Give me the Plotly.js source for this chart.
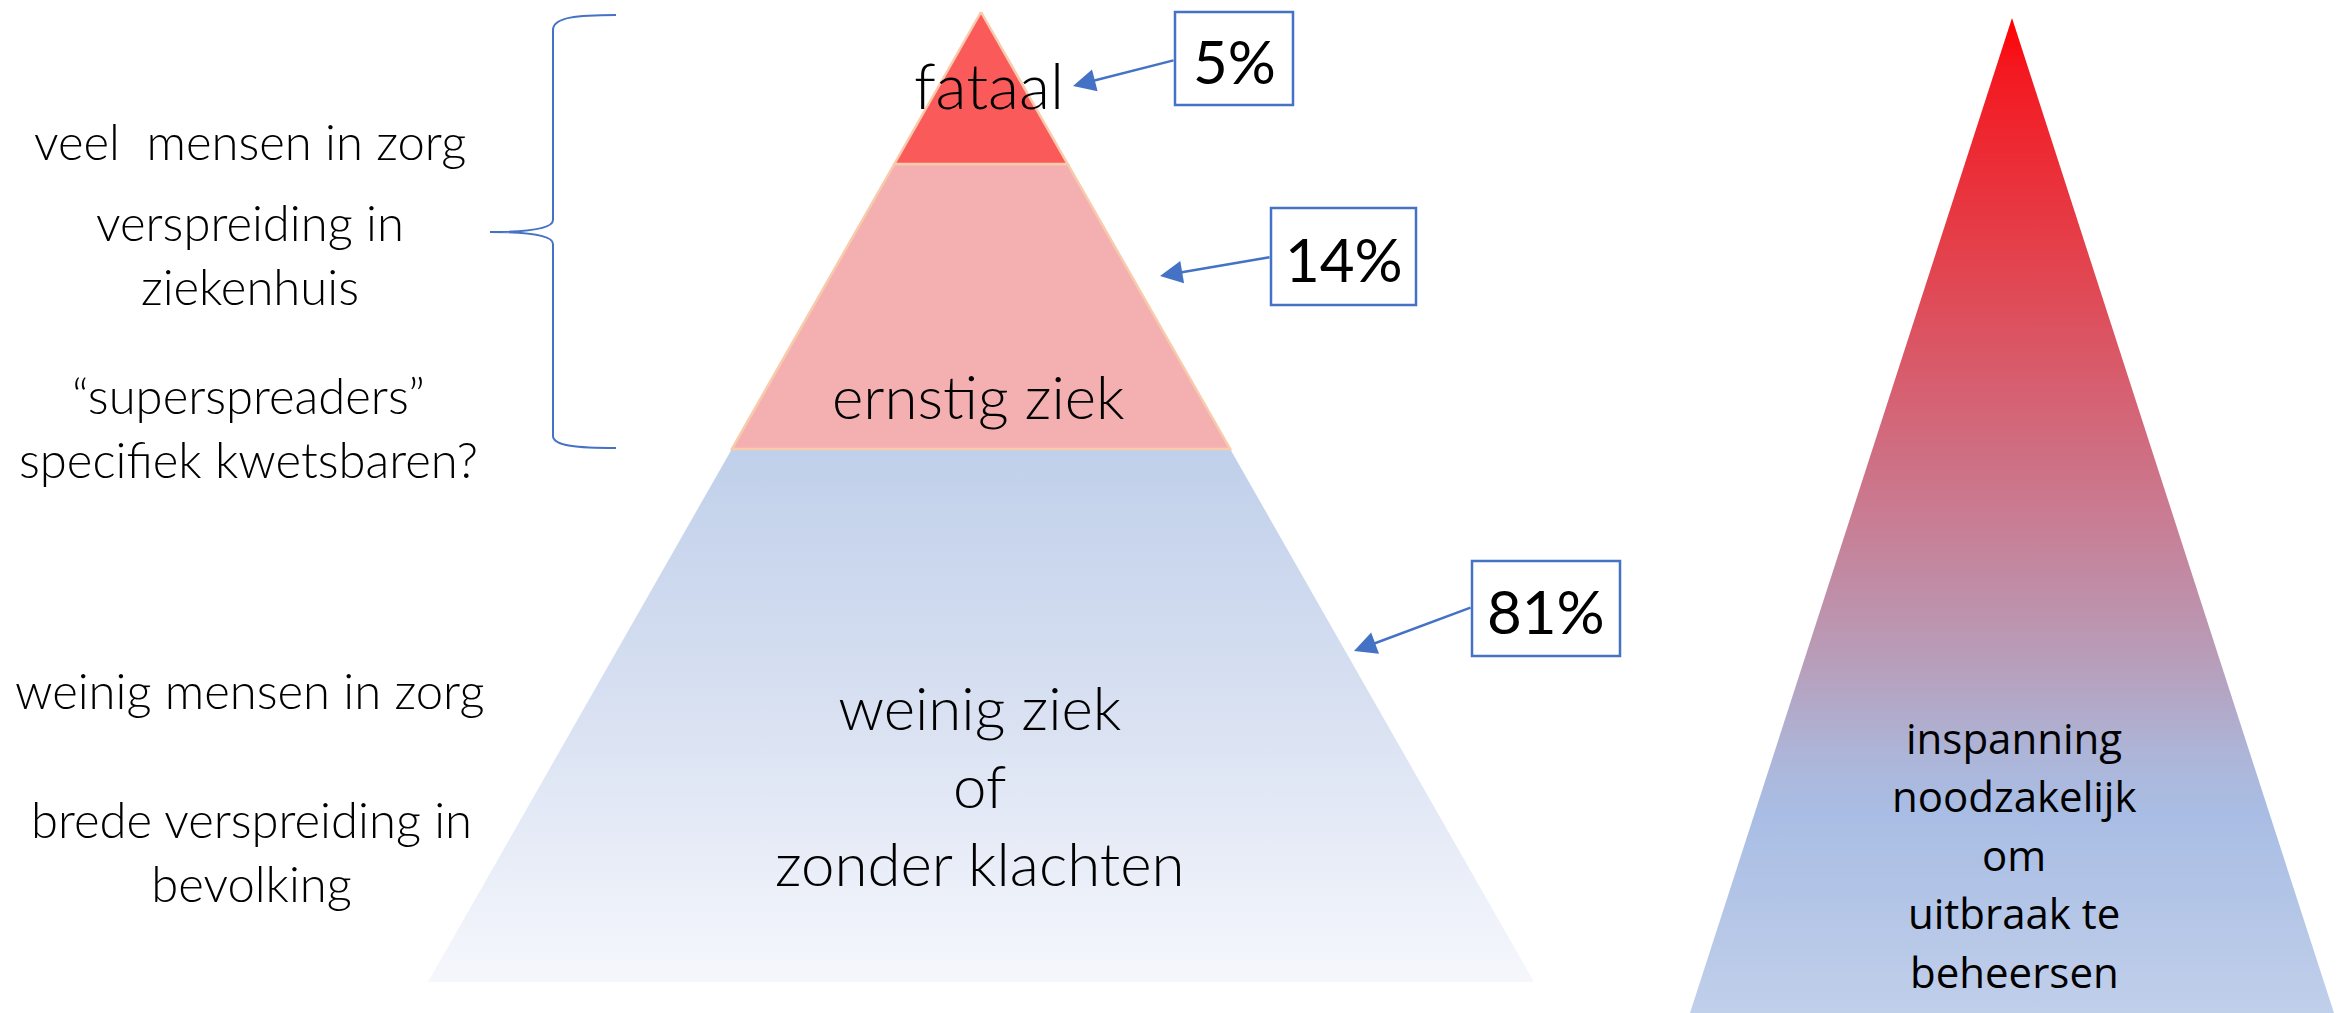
<!DOCTYPE html>
<html>
<head>
<meta charset="utf-8">
<script src="https://cdn.plot.ly/plotly-3.0.1.min.js"></script>
<style>html,body{margin:0;padding:0;background:#fff;overflow:hidden}#chart{width:2344px;height:1013px}</style>
</head>
<body>
<div id="chart"></div>
<script>
// ---- data ----
const levels = ['fataal', 'ernstig ziek', 'weinig ziek<br>of<br>zonder klachten'];
const shares = [5, 14, 81];
const shareLabels = shares.map(v => v + '%');
const notesSevere = ['veel\u00a0 mensen in zorg', 'verspreiding in<br>ziekenhuis', '\u201csuperspreaders\u201d<br>specifiek kwetsbaren?'];
const notesMild = ['weinig mensen in zorg', 'brede verspreiding in<br>bevolking'];
const effortLines = ['inspanning', 'noodzakelijk', 'om', 'uitbraak te', 'beheersen'];

// ---- layout geometry (pixel space) ----
const W = 2344, H = 1013;
const apexX = 981, apexY = 12, baseY = 982, halfBase = 553;
const cuts = [apexY, 164, 449, baseY];           // layer boundaries
const halfAt = y => halfBase * (y - apexY) / (baseY - apexY);
const BLUE = '#4472C4', PEACH = '#F8CBAD';
const FONT = 'Lato, "Open Sans", sans-serif';

const traces = [];
// bottom layer (full triangle behind, gradient over its own band)
traces.push({
  type: 'scatter', mode: 'lines', fill: 'toself', hoverinfo: 'skip', showlegend: false,
  x: [apexX, apexX + halfAt(baseY), apexX - halfAt(baseY), apexX],
  y: [apexY, baseY, baseY, apexY],
  line: {width: 0, color: 'rgba(0,0,0,0)'},
  fillgradient: {type: 'vertical', start: cuts[2], stop: cuts[3],
    colorscale: [[0, '#C0D0EA'], [0.5, '#D9E1F2'], [1, '#F5F7FC']]}
});
// middle layer
traces.push({
  type: 'scatter', mode: 'lines', fill: 'toself', hoverinfo: 'skip', showlegend: false,
  x: [apexX - halfAt(cuts[1]), apexX + halfAt(cuts[1]), apexX + halfAt(cuts[2]), apexX - halfAt(cuts[2]), apexX - halfAt(cuts[1])],
  y: [cuts[1], cuts[1], cuts[2], cuts[2], cuts[1]],
  line: {width: 2.5, color: PEACH}, fillcolor: '#F4B0B0'
});
// top layer
traces.push({
  type: 'scatter', mode: 'lines', fill: 'toself', hoverinfo: 'skip', showlegend: false,
  x: [apexX, apexX + halfAt(cuts[1]), apexX - halfAt(cuts[1]), apexX],
  y: [apexY, cuts[1], cuts[1], apexY],
  line: {width: 2.5, color: PEACH}, fillcolor: '#FB5A5A'
});
// effort triangle
const eApexX = 2012, eApexY = 18, eBaseY = 1013, eHalf = 322;
traces.push({
  type: 'scatter', mode: 'lines', fill: 'toself', hoverinfo: 'skip', showlegend: false,
  x: [eApexX, eApexX + eHalf, eApexX - eHalf, eApexX],
  y: [eApexY, eBaseY, eBaseY, eApexY],
  line: {width: 0, color: 'rgba(0,0,0,0)'},
  fillgradient: {type: 'vertical', start: eApexY, stop: eBaseY,
    colorscale: [[0, '#FF0000'], [0.05, '#F41820'], [0.25, '#E2444F'], [0.5, '#C97C93'],
                 [0.64, '#B89CB8'], [0.74, '#ADB5D8'], [0.8, '#A9BDE4'], [1, '#C0CFEA']]}
});

// ---- annotations ----
const ann = [];
const layerLabelPos = [[989, 84], [978, 396], [980, 785]];
const layerLabelSize = [64, 60, 60];
levels.forEach((t, i) => ann.push({
  x: layerLabelPos[i][0], y: layerLabelPos[i][1], text: t, showarrow: false,
  xref: 'x', yref: 'y', xanchor: 'center', yanchor: 'middle',
  font: {family: FONT, size: layerLabelSize[i], weight: 300, color: '#000'}
}));

// percentage boxes + arrows
const boxes = [[1175, 12, 1293, 105], [1271, 208, 1416, 305], [1472, 561, 1620, 656]];
const arrowFrom = [[1175, 60], [1271, 257], [1472, 607]];
const arrowTo = [[1073, 86], [1160, 276], [1354, 651]];
const shapes = [];
shareLabels.forEach((t, i) => {
  const b = boxes[i];
  shapes.push({type: 'rect', xref: 'x', yref: 'y', x0: b[0], y0: b[1], x1: b[2], y1: b[3],
    line: {color: BLUE, width: 2.5}, fillcolor: '#fff'});
  ann.push({x: (b[0] + b[2]) / 2, y: (b[1] + b[3]) / 2 + 2, text: t, showarrow: false,
    xref: 'x', yref: 'y', xanchor: 'center', yanchor: 'middle',
    font: {family: FONT, size: 60, weight: 400, color: '#000'}});
  ann.push({x: arrowTo[i][0], y: arrowTo[i][1], ax: arrowFrom[i][0], ay: arrowFrom[i][1],
    axref: 'x', ayref: 'y', xref: 'x', yref: 'y', text: '', showarrow: true,
    arrowhead: 2, arrowsize: 1.8, arrowwidth: 2.5, arrowcolor: BLUE, standoff: 0, startstandoff: 0});
});

// left notes
const NOTE = 49;
const severePos = [[250, 141], [250, 254], [248, 427]];
notesSevere.forEach((t, i) => ann.push({x: severePos[i][0], y: severePos[i][1], text: t, showarrow: false,
  xref: 'x', yref: 'y', xanchor: 'center', yanchor: 'middle',
  font: {family: FONT, size: NOTE, weight: 300, color: '#000'}}));
const mildPos = [[250, 690], [251, 851]];
notesMild.forEach((t, i) => ann.push({x: mildPos[i][0], y: mildPos[i][1], text: t, showarrow: false,
  xref: 'x', yref: 'y', xanchor: 'center', yanchor: 'middle',
  font: {family: FONT, size: NOTE, weight: 300, color: '#000'}}));

// effort text
const effortY0 = 737, effortStep = 58.5;
effortLines.forEach((t, i) => ann.push({x: 2014, y: effortY0 + i * effortStep, text: t, showarrow: false,
  xref: 'x', yref: 'y', xanchor: 'center', yanchor: 'middle',
  font: {family: '"Open Sans", sans-serif', size: 42, weight: 400, color: '#000'}}));

// brace
shapes.push({type: 'path', xref: 'x', yref: 'y', line: {color: BLUE, width: 2},
  path: 'M 616,15 C 578,15 553,17 553,30 L 553,220 C 553,229 525,232 490,232 C 525,232 553,235 553,244 L 553,436 C 553,446 578,448 616,448'});

const layout = {
  width: W, height: H, margin: {l: 0, r: 0, t: 0, b: 0, pad: 0},
  paper_bgcolor: '#fff', plot_bgcolor: '#fff', showlegend: false,
  xaxis: {range: [0, W], visible: false, fixedrange: true},
  yaxis: {range: [H, 0], visible: false, fixedrange: true},
  annotations: ann, shapes: shapes
};
Plotly.newPlot('chart', traces, layout, {staticPlot: true, displayModeBar: false});
</script>
</body>
</html>
